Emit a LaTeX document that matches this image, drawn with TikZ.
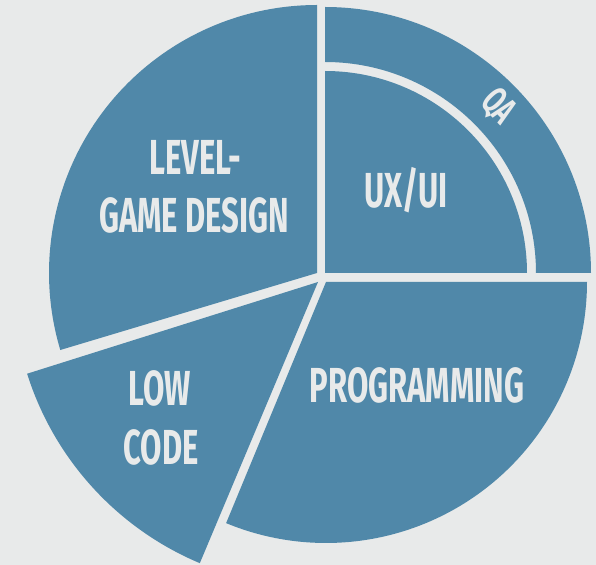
\documentclass[tikz,border=0pt]{standalone}
\usepackage{fontspec}
\newfontfamily\rotulo[FakeStretch=0.63]{Fira Sans}
\definecolor{cfondo}{HTML}{E8EAEA}
\definecolor{csector}{HTML}{5088A9}
\tikzset{
  sector/.style={fill=csector},
  etiqueta/.style={font=\rotulo\bfseries\fontsize{28}{30}\selectfont,text=cfondo,
                   inner sep=0pt,anchor=center},
  etiquetap/.style={etiqueta,font=\rotulo\bfseries\fontsize{22}{24}\selectfont},
}
\begin{document}
\begin{tikzpicture}[x=0.02cm,y=0.02cm]

\fill[cfondo] (0,0) rectangle (596,565);
\useasboundingbox (0,0) rectangle (596,565);

% sectores, cada uno con su propio vértice (quedan separados por el fondo)
\fill[sector] (317,292) -- ++(90:268) arc[start angle=90,end angle=196.7,radius=268] -- cycle;
\fill[sector] (325,292) -- ++(0:202) arc[start angle=0,end angle=90,radius=202] -- cycle;
\fill[sector] (325,292) ++(0:211) arc[start angle=0,end angle=90,radius=211]
  -- ++(0,55) arc[start angle=90,end angle=0,radius=266] -- cycle;
\fill[sector] (326,283) -- ++(247.5:261) arc[start angle=247.5,end angle=360,radius=261] -- cycle;
\fill[sector] (318,283) -- ++(197.5:305) arc[start angle=197.5,end angle=247.2,radius=305] -- cycle;

\node[etiqueta] (level) at (195,408) {LEVEL-};
\node[etiqueta] (game)  at (194,350) {GAME DESIGN};
\node[etiqueta] (uxui)  at (406,375) {UX/UI};
\node[etiquetap,rotate=-46] (qa) at (498,458) {QA};
\node[etiqueta] (prog)  at (417,180) {PROGRAMMING};
\node[etiqueta] (low)   at (160,177) {LOW};
\node[etiqueta] (code)  at (161,118) {CODE};

\end{tikzpicture}
\end{document}
